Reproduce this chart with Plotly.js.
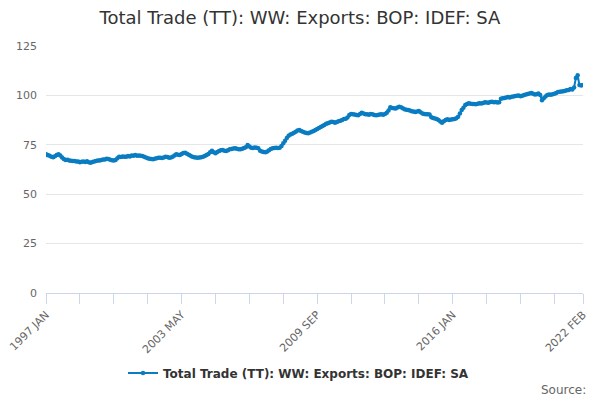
<!DOCTYPE html>
<html>
<head>
<meta charset="utf-8">
<script src="https://cdn.plot.ly/plotly-3.0.1.min.js"></script>
<style>
  html, body { margin: 0; padding: 0; background: #fff; }
  #chart { width: 600px; height: 400px; }
</style>
</head>
<body>
<div id="chart"></div>
<script>
// monthly values, 1997 JAN .. 2022 FEB
const v1997 = [70.2, 69.8, 69.5, 69.0, 68.7, 69.2, 69.8, 70.2, 69.6, 68.6, 67.8, 67.3];
const v1998 = [67.4, 67.0, 66.9, 66.8, 66.8, 66.5, 66.6, 66.2, 66.4, 66.5, 66.3, 66.7];
const v1999 = [66.2, 65.9, 66.3, 66.6, 66.8, 67.0, 67.1, 67.3, 67.5, 67.6, 67.9, 67.8];
const v2000 = [67.4, 67.2, 67.0, 67.3, 68.2, 69.0, 68.8, 69.1, 68.9, 69.0, 69.3, 69.1];
const v2001 = [69.6, 69.4, 69.8, 69.5, 69.6, 69.5, 69.3, 69.0, 68.6, 68.2, 68.0, 67.8];
const v2002 = [67.7, 68.0, 68.2, 68.4, 68.5, 68.3, 68.6, 69.0, 68.8, 68.5, 68.6, 69.0];
const v2003 = [69.6, 70.2, 70.0, 69.8, 70.3, 70.8, 71.0, 70.5, 70.0, 69.5, 69.0, 68.7];
const v2004 = [68.6, 68.4, 68.6, 68.7, 68.9, 69.3, 69.8, 70.4, 71.2, 72.0, 71.2, 70.7];
const v2005 = [71.3, 71.9, 72.2, 72.4, 72.0, 71.9, 72.3, 72.7, 72.9, 73.1, 73.2, 73.0];
const v2006 = [72.8, 72.7, 73.0, 73.4, 73.8, 74.9, 74.1, 73.5, 73.4, 73.6, 73.5, 73.2];
const v2007 = [72.0, 71.6, 71.4, 71.2, 71.6, 72.3, 72.9, 73.2, 73.4, 73.5, 73.4, 73.5];
const v2008 = [74.4, 75.8, 77.0, 78.4, 79.6, 80.2, 80.6, 81.1, 81.6, 82.2, 82.5, 82.0];
const v2009 = [81.6, 81.2, 81.0, 80.8, 81.2, 81.6, 82.0, 82.5, 83.0, 83.5, 84.0, 84.5];
const v2010 = [85.0, 85.6, 85.9, 86.3, 86.7, 86.5, 86.2, 86.6, 86.9, 87.2, 87.5, 88.0];
const v2011 = [88.2, 88.8, 90.1, 90.6, 90.4, 90.3, 90.1, 90.0, 90.6, 91.2, 90.8, 90.4];
const v2012 = [90.4, 90.2, 90.6, 90.5, 90.1, 89.9, 90.1, 90.3, 90.4, 90.2, 90.6, 91.2];
const v2013 = [92.4, 94.0, 93.6, 93.5, 93.4, 93.9, 94.3, 94.0, 93.5, 93.0, 92.8, 92.6];
const v2014 = [92.3, 92.0, 91.8, 91.6, 91.9, 92.1, 91.5, 90.9, 90.6, 90.4, 90.5, 90.3];
const v2015 = [89.0, 88.6, 88.3, 88.0, 87.5, 86.8, 86.2, 86.9, 87.5, 87.9, 87.6, 87.8];
const v2016 = [87.9, 88.0, 88.4, 89.2, 90.8, 92.6, 93.8, 95.1, 95.6, 96.0, 95.8, 95.7];
const v2017 = [95.6, 95.5, 95.8, 96.0, 95.9, 96.2, 96.5, 96.4, 96.3, 96.6, 96.8, 96.5];
const v2018 = [96.6, 96.4, 96.5, 98.3, 98.5, 98.7, 99.0, 99.2, 98.9, 99.3, 99.5, 99.7];
const v2019 = [99.8, 100.0, 99.6, 99.8, 100.2, 100.5, 100.7, 100.9, 101.2, 100.8, 100.4, 100.6];
const v2020 = [101.0, 100.2, 97.5, 98.6, 99.5, 100.2, 100.4, 100.3, 100.6, 100.8, 101.2, 101.7];
const v2021 = [101.8, 102.0, 102.1, 102.3, 102.6, 102.7, 103.3, 103.0, 104.0, 108.8, 110.2, 105.2];
const v2022 = [105.0, 105.2];

const monthNames = ['JAN','FEB','MAR','APR','MAY','JUN','JUL','AUG','SEP','OCT','NOV','DEC'];
const seriesName = 'Total Trade (TT): WW: Exports: BOP: IDEF: SA';
const yTicks = [0, 25, 50, 75, 100, 125];
const xLabels = ['1997 JAN', '2003 MAY', '2009 SEP', '2016 JAN', '2022 FEB'];

const yearly = [v1997, v1998, v1999, v2000, v2001, v2002, v2003, v2004, v2005,
  v2006, v2007, v2008, v2009, v2010, v2011, v2012, v2013, v2014, v2015,
  v2016, v2017, v2018, v2019, v2020, v2021, v2022];

const months = [];
const values = [];
yearly.forEach((arr, yi) => {
  arr.forEach((val, mi) => {
    months.push((1997 + yi) + ' ' + monthNames[mi]);
    values.push(val);
  });
});

// tick every 19 months, label every 4th tick, plus the last month
const tickvals = [];
const ticktext = [];
for (let i = 0; i < months.length - 10; i += 19) {
  tickvals.push(months[i]);
  ticktext.push(xLabels.includes(months[i]) ? months[i] : '');
}
tickvals.push(months[months.length - 1]);
ticktext.push(months[months.length - 1]);

const blue = '#0a7cc1';
const font = 'DejaVu Sans, Liberation Sans, sans-serif';

Plotly.newPlot('chart', [{
  x: months,
  y: values,
  type: 'scatter',
  mode: 'lines+markers',
  name: seriesName,
  line: { color: blue, width: 2 },
  marker: { color: blue, size: 4.5 },
  hoverinfo: 'x+y'
}], {
  width: 600,
  height: 400,
  font: { family: font, color: '#666', size: 11 },
  title: {
    text: seriesName,
    font: { family: font, size: 18, color: '#333' },
    x: 0.5, xanchor: 'center',
    y: 1 - 18 / 400, yref: 'container', yanchor: 'middle'
  },
  margin: { t: 46, l: 46, r: 17, b: 107 },
  xaxis: {
    type: 'category',
    range: [0, months.length - 1],
    tickvals: tickvals,
    ticktext: ticktext,
    tickangle: -45,
    ticks: 'outside',
    ticklen: 10,
    tickcolor: '#ccd6eb',
    showline: true,
    linecolor: '#ccd6eb',
    linewidth: 1,
    showgrid: false,
    zeroline: false,
    tickfont: { family: font, size: 11, color: '#666' }
  },
  yaxis: {
    range: [0, 125],
    tickvals: yTicks,
    gridcolor: '#e6e6e6',
    gridwidth: 1,
    zeroline: false,
    showline: false,
    ticks: '',
    ticklabelstandoff: 8,
    tickfont: { family: font, size: 11, color: '#666' }
  },
  showlegend: true,
  legend: {
    orientation: 'h',
    x: 0.5 - 16 / 537, xanchor: 'center',
    y: (293 - 373) / 247, yanchor: 'middle',
    font: { family: font, size: 12, color: '#333', weight: 'bold' }
  },
  annotations: [{
    text: 'Source:',
    xref: 'paper', yref: 'paper',
    x: 1 + 5 / 537, xanchor: 'right',
    y: (293 - 390) / 247, yanchor: 'middle',
    showarrow: false,
    font: { family: font, size: 12, color: '#666' }
  }],
  plot_bgcolor: '#fff',
  paper_bgcolor: '#fff'
}, { displayModeBar: false, staticPlot: true });
</script>
</body>
</html>
